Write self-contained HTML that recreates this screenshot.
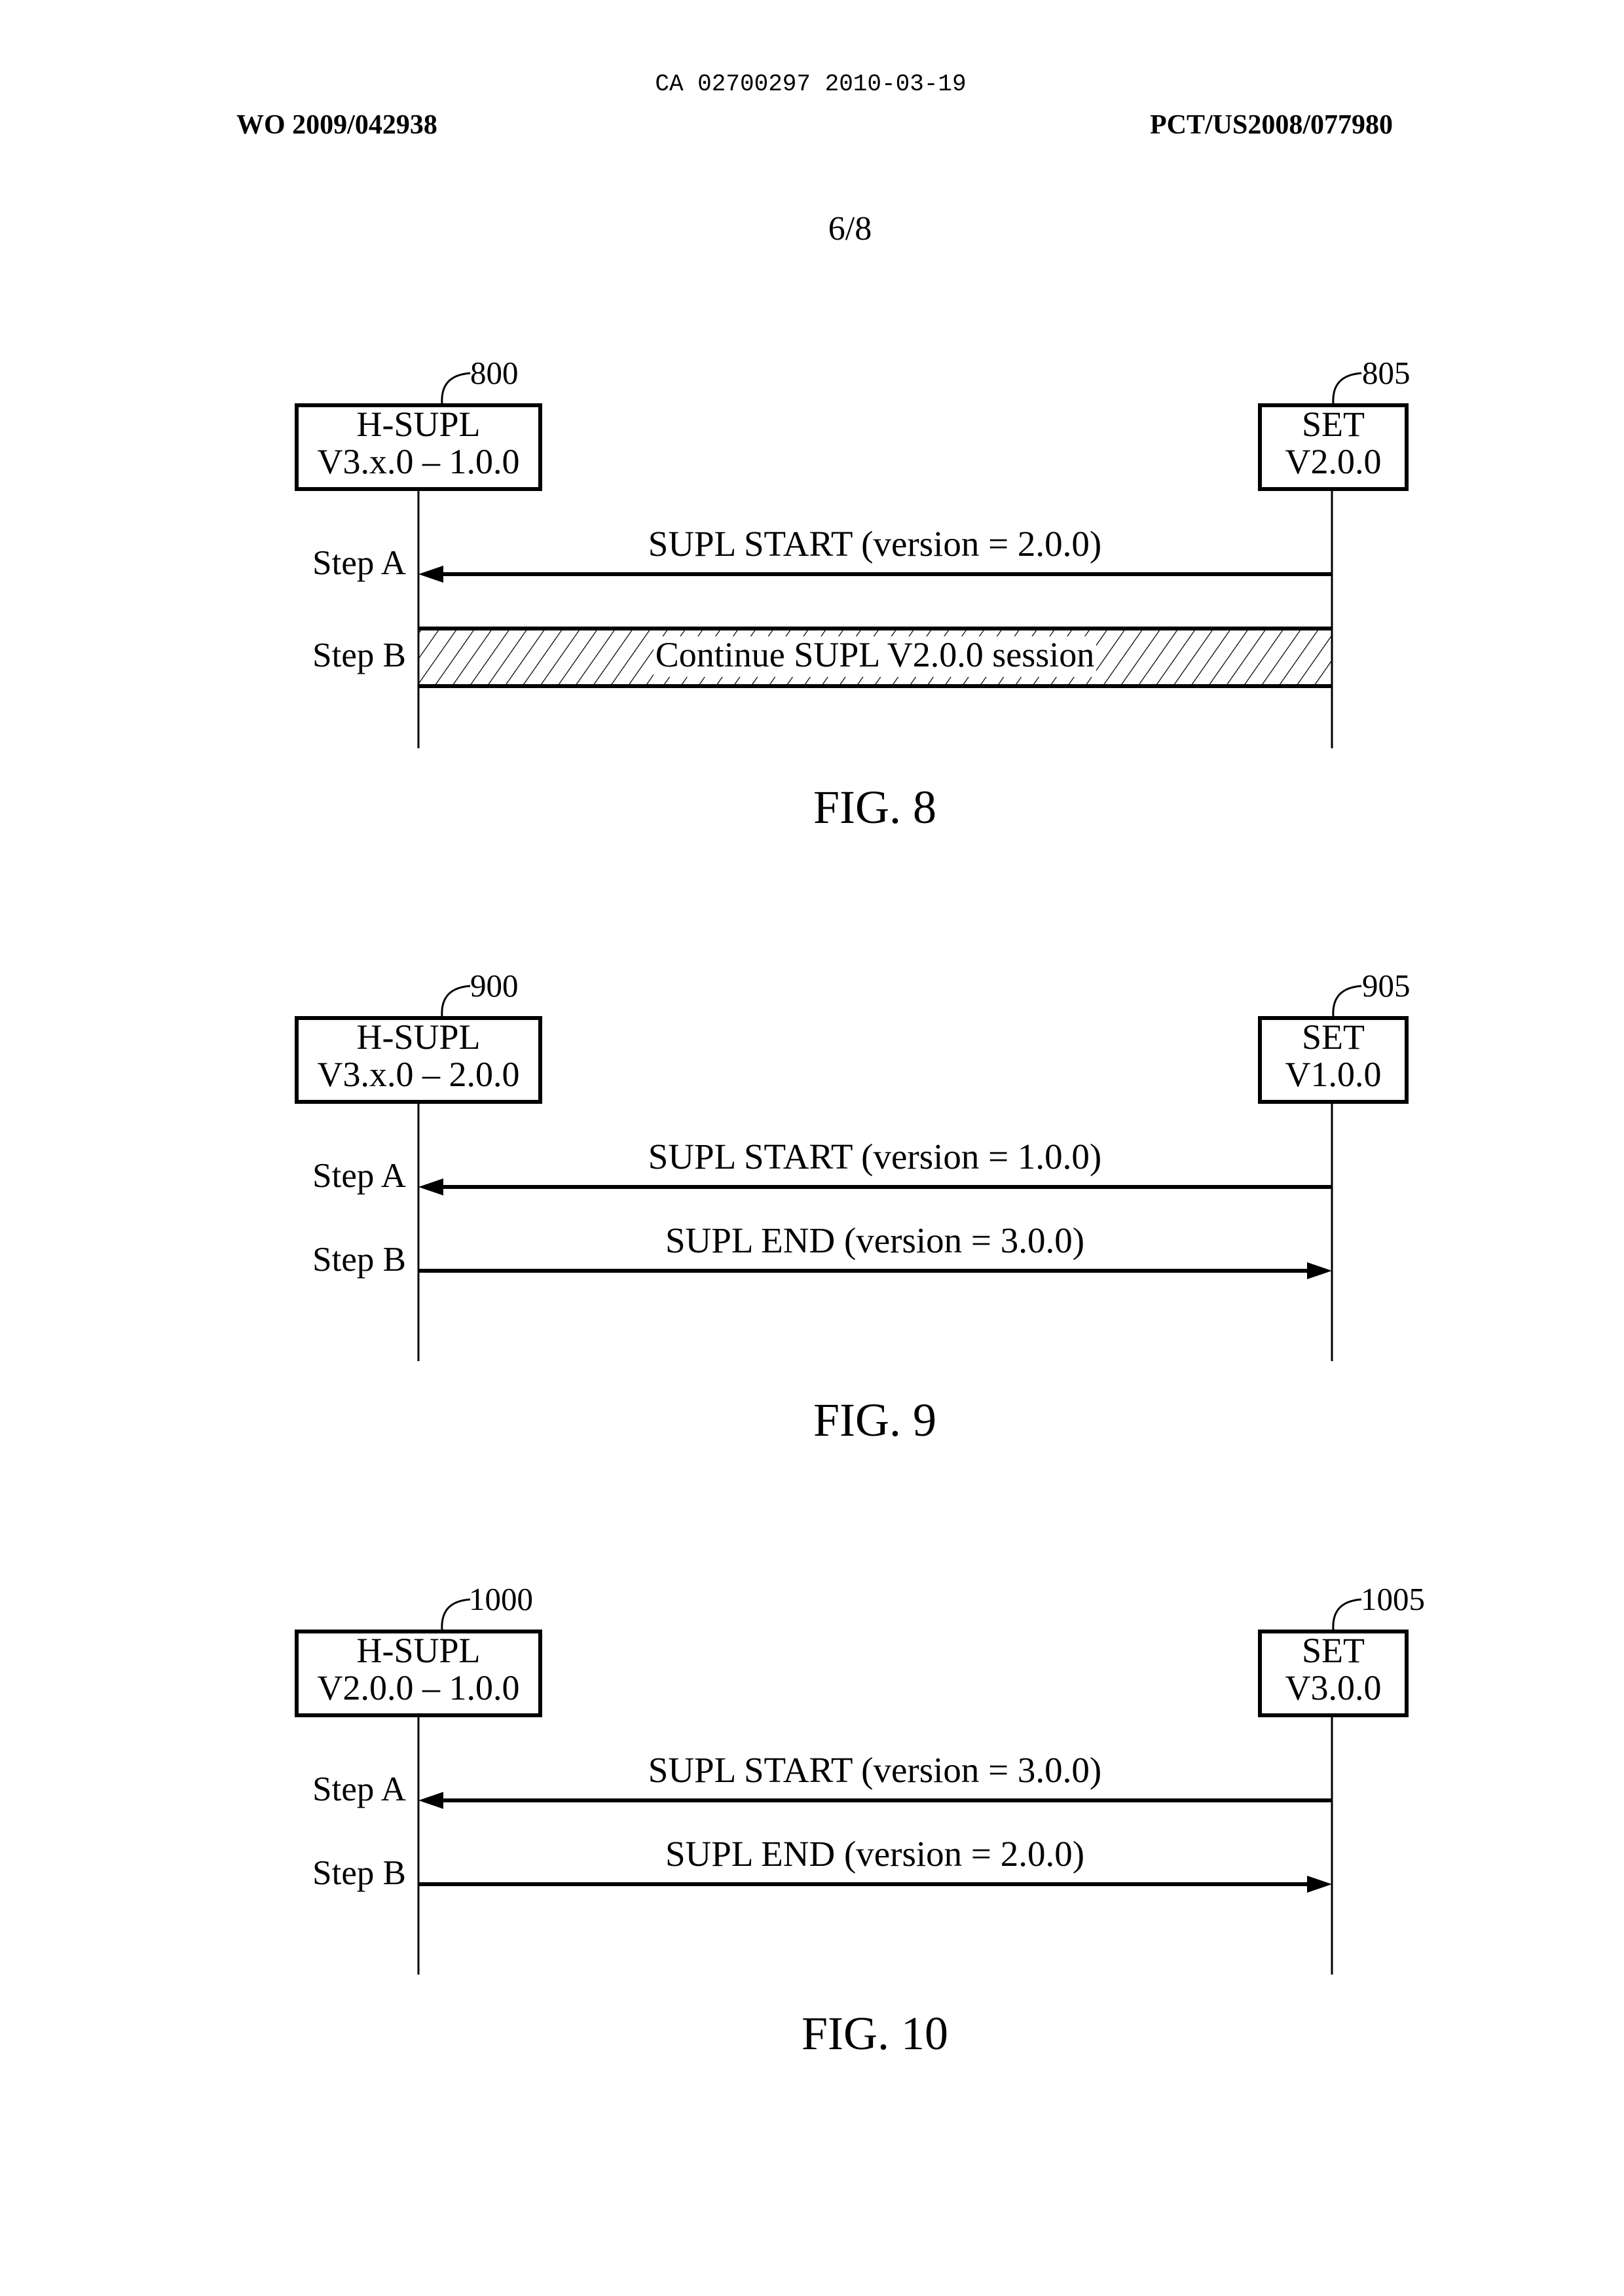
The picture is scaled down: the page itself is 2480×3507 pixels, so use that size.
<!DOCTYPE html>
<html><head><meta charset="utf-8"><style>html,body{margin:0;padding:0;background:#fff}svg{display:block}</style></head>
<body>
<svg width="2480" height="3507" viewBox="0 0 2480 3507" xmlns="http://www.w3.org/2000/svg" font-family="'Liberation Serif', serif">
<defs>
<pattern id="h" width="22" height="22" patternUnits="userSpaceOnUse" patternTransform="rotate(35)">
<line x1="0" y1="0" x2="0" y2="22" stroke="#000" stroke-width="2.5"/>
</pattern>
</defs>
<rect width="2480" height="3507" fill="#fff"/>
<text x="1238" y="138" font-family="'Liberation Mono', monospace" font-size="36" text-anchor="middle">CA 02700297 2010-03-19</text>
<text x="361" y="204" font-size="42" font-weight="bold">WO 2009/042938</text>
<text x="2127" y="204" font-size="42" font-weight="bold" text-anchor="end">PCT/US2008/077980</text>
<text x="1298" y="366" font-size="52" text-anchor="middle">6/8</text>

<!-- FIG 8 -->
<g>
<rect x="453" y="619" width="372" height="128" fill="none" stroke="#000" stroke-width="6"/>
<rect x="1924" y="619" width="224" height="128" fill="none" stroke="#000" stroke-width="6"/>
<path d="M675 617 C673 585 690 572 718 570" fill="none" stroke="#000" stroke-width="3"/>
<path d="M2036 617 C2034 585 2051 572 2079 570" fill="none" stroke="#000" stroke-width="3"/>
<text x="718" y="586" font-size="49">800</text>
<text x="2080" y="586" font-size="49">805</text>
<text x="639" y="666" font-size="54" text-anchor="middle">H-SUPL</text>
<text x="639" y="723" font-size="54" text-anchor="middle">V3.x.0 – 1.0.0</text>
<text x="2036" y="666" font-size="54" text-anchor="middle">SET</text>
<text x="2036" y="723" font-size="54" text-anchor="middle">V2.0.0</text>
<line x1="639" y1="749" x2="639" y2="1143" stroke="#000" stroke-width="3"/>
<line x1="2034" y1="749" x2="2034" y2="1143" stroke="#000" stroke-width="3"/>
<line x1="670" y1="877" x2="2034" y2="877" stroke="#000" stroke-width="6"/>
<polygon points="639,877 677,864 677,890" fill="#000"/>
<text x="1336" y="849" font-size="55" text-anchor="middle">SUPL START (version = 2.0.0)</text>
<text x="620" y="877" font-size="53" text-anchor="end">Step A</text>
<rect x="639" y="960" width="1395" height="88" fill="url(#h)"/>
<line x1="639" y1="960" x2="2034" y2="960" stroke="#000" stroke-width="6"/>
<line x1="639" y1="1048" x2="2034" y2="1048" stroke="#000" stroke-width="6"/>
<rect x="998" y="972" width="676" height="62" fill="#fff"/>
<text x="1336" y="1018" font-size="54" text-anchor="middle">Continue SUPL V2.0.0 session</text>
<text x="620" y="1018" font-size="53" text-anchor="end">Step B</text>
<text x="1336" y="1257" font-size="72" text-anchor="middle">FIG. 8</text>
</g>

<!-- FIG 9 -->
<g transform="translate(0,936)">
<rect x="453" y="619" width="372" height="128" fill="none" stroke="#000" stroke-width="6"/>
<rect x="1924" y="619" width="224" height="128" fill="none" stroke="#000" stroke-width="6"/>
<path d="M675 617 C673 585 690 572 718 570" fill="none" stroke="#000" stroke-width="3"/>
<path d="M2036 617 C2034 585 2051 572 2079 570" fill="none" stroke="#000" stroke-width="3"/>
<text x="718" y="586" font-size="49">900</text>
<text x="2080" y="586" font-size="49">905</text>
<text x="639" y="666" font-size="54" text-anchor="middle">H-SUPL</text>
<text x="639" y="723" font-size="54" text-anchor="middle">V3.x.0 – 2.0.0</text>
<text x="2036" y="666" font-size="54" text-anchor="middle">SET</text>
<text x="2036" y="723" font-size="54" text-anchor="middle">V1.0.0</text>
<line x1="639" y1="749" x2="639" y2="1143" stroke="#000" stroke-width="3"/>
<line x1="2034" y1="749" x2="2034" y2="1143" stroke="#000" stroke-width="3"/>
<line x1="670" y1="877" x2="2034" y2="877" stroke="#000" stroke-width="6"/>
<polygon points="639,877 677,864 677,890" fill="#000"/>
<text x="1336" y="849" font-size="55" text-anchor="middle">SUPL START (version = 1.0.0)</text>
<text x="620" y="877" font-size="53" text-anchor="end">Step A</text>
<line x1="639" y1="1005" x2="2002" y2="1005" stroke="#000" stroke-width="6"/>
<polygon points="2034,1005 1996,992 1996,1018" fill="#000"/>
<text x="1336" y="977" font-size="55" text-anchor="middle">SUPL END (version = 3.0.0)</text>
<text x="620" y="1005" font-size="53" text-anchor="end">Step B</text>
<text x="1336" y="1257" font-size="72" text-anchor="middle">FIG. 9</text>
</g>

<!-- FIG 10 -->
<g transform="translate(0,1873)">
<rect x="453" y="619" width="372" height="128" fill="none" stroke="#000" stroke-width="6"/>
<rect x="1924" y="619" width="224" height="128" fill="none" stroke="#000" stroke-width="6"/>
<path d="M675 617 C673 585 690 572 718 570" fill="none" stroke="#000" stroke-width="3"/>
<path d="M2036 617 C2034 585 2051 572 2079 570" fill="none" stroke="#000" stroke-width="3"/>
<text x="716" y="586" font-size="49">1000</text>
<text x="2078" y="586" font-size="49">1005</text>
<text x="639" y="666" font-size="54" text-anchor="middle">H-SUPL</text>
<text x="639" y="723" font-size="54" text-anchor="middle">V2.0.0 – 1.0.0</text>
<text x="2036" y="666" font-size="54" text-anchor="middle">SET</text>
<text x="2036" y="723" font-size="54" text-anchor="middle">V3.0.0</text>
<line x1="639" y1="749" x2="639" y2="1143" stroke="#000" stroke-width="3"/>
<line x1="2034" y1="749" x2="2034" y2="1143" stroke="#000" stroke-width="3"/>
<line x1="670" y1="877" x2="2034" y2="877" stroke="#000" stroke-width="6"/>
<polygon points="639,877 677,864 677,890" fill="#000"/>
<text x="1336" y="849" font-size="55" text-anchor="middle">SUPL START (version = 3.0.0)</text>
<text x="620" y="877" font-size="53" text-anchor="end">Step A</text>
<line x1="639" y1="1005" x2="2002" y2="1005" stroke="#000" stroke-width="6"/>
<polygon points="2034,1005 1996,992 1996,1018" fill="#000"/>
<text x="1336" y="977" font-size="55" text-anchor="middle">SUPL END (version = 2.0.0)</text>
<text x="620" y="1005" font-size="53" text-anchor="end">Step B</text>
<text x="1336" y="1257" font-size="72" text-anchor="middle">FIG. 10</text>
</g>
</svg>
</body></html>
